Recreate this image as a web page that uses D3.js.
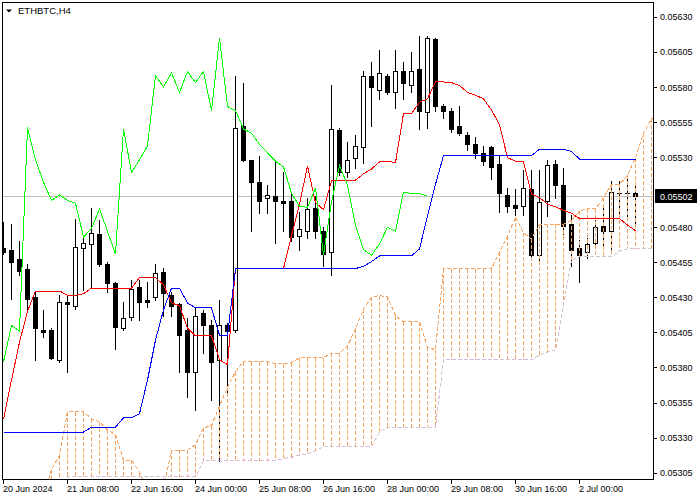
<!DOCTYPE html>
<html><head><meta charset="utf-8">
<script src="https://cdn.jsdelivr.net/npm/d3@7"></script>
<style>
body{margin:0;background:#fff}
svg{display:block}
text{font-family:"Liberation Sans",Arial,sans-serif}
</style>
</head><body>
<svg id="c" width="700" height="500"></svg>
<script>
// ---------- data ----------
const symbol = "ETHBTC,H4";
const xTickBars = [0,8,16,24,32,40,48,56,64,72];
const xTickLabels = ["20 Jun 2024","21 Jun 08:00","22 Jun 16:00","24 Jun 00:00","25 Jun 08:00",
  "26 Jun 16:00","28 Jun 00:00","29 Jun 08:00","30 Jun 16:00","2 Jul 00:00"];
const yTickValues = [0.05630,0.05605,0.05580,0.05555,0.05530,0.05480,0.05455,0.05430,
  0.05405,0.05380,0.05355,0.05330,0.05305];
const lastPrice = 0.05502;

const opens = [0.05465,0.05464,0.05457,0.05450,0.05430,0.05407,0.05407,0.05385,0.05427,0.05424,
 0.05465,0.05468,0.05475,0.05454,0.05440,0.05408,0.05416,0.05437,0.05428,0.05430,
 0.05448,0.05432,0.05425,0.05407,0.05377,0.05419,0.05410,0.05385,0.05410,0.05407,
 0.05552,0.05528,0.05512,0.05501,0.05502,0.05499,0.05499,0.05474,0.05477,0.05494,
 0.05477,0.05462,0.05549,0.05519,0.05529,0.05537,0.05588,0.05578,0.05588,0.05576,
 0.05591,0.05581,0.05593,0.05562,0.05614,0.05566,0.05563,0.05552,0.05546,0.05539,
 0.05533,0.05537,0.05525,0.05503,0.05496,0.05495,0.05507,0.05460,0.05499,0.05525,
 0.05510,0.05482,0.05465,0.05462,0.05469,0.05481,0.05477,0.05504,0.05504,0.05504];
const highs = [0.05484,0.05482,0.05470,0.05454,0.05434,0.05421,0.05408,0.05432,0.05432,0.05486,
 0.05472,0.05494,0.05485,0.05455,0.05441,0.05427,0.05442,0.05442,0.05441,0.05454,
 0.05451,0.05434,0.05426,0.05415,0.05423,0.05421,0.05414,0.05428,0.05412,0.05588,
 0.05583,0.05528,0.05531,0.05510,0.05528,0.05519,0.05504,0.05491,0.05501,0.05502,
 0.05480,0.05581,0.05551,0.05541,0.05546,0.05591,0.05598,0.05606,0.05589,0.05606,
 0.05598,0.05605,0.05616,0.05616,0.05615,0.05568,0.05565,0.05566,0.05548,0.05544,
 0.05538,0.05538,0.05531,0.05508,0.05507,0.05521,0.05521,0.05521,0.05528,0.05528,
 0.05522,0.05489,0.05471,0.05472,0.05485,0.05494,0.05513,0.05513,0.05516,0.05510];
const lows = [0.05461,0.05429,0.05446,0.05421,0.05385,0.05402,0.05386,0.05384,0.05377,0.05422,
 0.05435,0.05437,0.05452,0.05434,0.05393,0.05407,0.05414,0.05414,0.05423,0.05428,
 0.05417,0.05417,0.05377,0.05359,0.05350,0.05390,0.05357,0.05313,0.05360,0.05405,
 0.05527,0.05477,0.05490,0.05490,0.05469,0.05477,0.05470,0.05464,0.05472,0.05472,
 0.05452,0.05446,0.05517,0.05516,0.05522,0.05526,0.05552,0.05571,0.05575,0.05565,
 0.05571,0.05576,0.05550,0.05551,0.05563,0.05558,0.05548,0.05546,0.05535,0.05529,
 0.05524,0.05514,0.05491,0.05491,0.05489,0.05489,0.05459,0.05455,0.05488,0.05501,
 0.05475,0.05452,0.05441,0.05458,0.05466,0.05466,0.05464,0.05489,0.05485,0.05483];
const closes = [0.05462,0.05455,0.05449,0.05429,0.05408,0.05405,0.05387,0.05427,0.05425,0.05466,
 0.05469,0.05476,0.05454,0.05440,0.05409,0.05415,0.05436,0.05427,0.05427,0.05447,
 0.05433,0.05424,0.05403,0.05377,0.05417,0.05410,0.05384,0.05410,0.05406,0.05551,
 0.05528,0.05512,0.05499,0.05503,0.05499,0.05497,0.05473,0.05479,0.05493,0.05477,
 0.05461,0.05550,0.05519,0.05528,0.05538,0.05588,0.05580,0.05590,0.05576,0.05591,
 0.05583,0.05591,0.05563,0.05615,0.05566,0.05563,0.05550,0.05547,0.05539,0.05533,
 0.05527,0.05523,0.05504,0.05495,0.05494,0.05508,0.05460,0.05498,0.05524,0.05510,
 0.05481,0.05464,0.05460,0.05468,0.05480,0.05477,0.05505,0.05504,0.05504,0.05502];

// Ichimoku lines
const tenkan = [0.05343,0.05371,0.05398,0.05420,0.054345,0.054345,0.054345,0.054345,0.054315,0.054315,
 0.054325,0.054365,0.054365,0.054365,0.054365,0.054365,0.054365,0.05444,0.05444,0.05444,
 0.05439,0.05426,0.05424,0.05408,0.054025,0.054025,0.054025,0.053855,0.05382,0.054505,
 0.054505,0.054505,0.054505,0.054505,0.054505,0.054505,0.05474,0.054965,0.055235,0.054975,
 0.054925,0.05513,0.055135,0.055135,0.055135,0.05518,0.055215,0.055265,0.05527,0.05526,
 0.05561,0.05561,0.05569,0.055715,0.055835,0.055835,0.05583,0.05581,0.05576,0.05574,
 0.055715,0.055635,0.05553,0.055295,0.05527,0.055265,0.055035,0.05501,0.054965,0.054945,
 0.05492,0.05490,0.05486,0.05486,0.05486,0.05486,0.05486,0.05486,0.054815,0.054775];
const kijun = [0.05334,0.05334,0.05334,0.05334,0.05334,0.05334,0.05334,0.05334,0.05334,0.05334,
 0.05334,0.053375,0.053375,0.053375,0.053375,0.05344,0.05344,0.05347,0.05371,0.053995,
 0.05421,0.054365,0.054365,0.05426,0.054225,0.054225,0.054225,0.05403,0.05403,0.054505,
 0.054505,0.054505,0.054505,0.054505,0.054505,0.054505,0.054505,0.054505,0.054505,0.054505,
 0.054505,0.054505,0.054505,0.054505,0.054505,0.05452,0.054555,0.054595,0.054595,0.054595,
 0.054595,0.054595,0.054645,0.05488,0.055105,0.05531,0.05531,0.05531,0.05531,0.05531,
 0.05531,0.05531,0.05531,0.05531,0.05531,0.05531,0.05531,0.055355,0.055355,0.055355,
 0.055355,0.05534,0.055285,0.055285,0.055285,0.055285,0.055285,0.055285,0.055285,0.055285];
const chikou = [0.05384,0.05410,0.05406,0.05551,0.05528,0.05512,0.05499,0.05503,0.05499,0.05497,
 0.05473,0.05479,0.05493,0.05477,0.05461,0.05550,0.05519,0.05528,0.05538,0.05588,
 0.05580,0.05590,0.05576,0.05591,0.05583,0.05591,0.05563,0.05615,0.05566,0.05563,
 0.05550,0.05547,0.05539,0.05533,0.05527,0.05523,0.05504,0.05495,0.05494,0.05508,
 0.05460,0.05498,0.05524,0.05510,0.05481,0.05464,0.05460,0.05468,0.05480,0.05477,
 0.05505,0.05504,0.05504,0.05502];
const spanA = [0.05278,0.05278,0.05278,0.05278,0.05278,0.05289,0.05307,0.053175,0.053485,0.053485,
 0.053485,0.053435,0.05341,0.053355,0.05332,0.05314,0.05314,0.053055,0.052925,0.05289,
 0.05294,0.05321,0.05321,0.05321,0.05325,0.05337,0.053385,0.053525,0.05366,0.05377,
 0.0538425,0.0538425,0.0538425,0.0538425,0.0538275,0.0538275,0.0538325,0.05387,0.05387,0.05387,
 0.05387,0.0539025,0.0539025,0.053955,0.054075,0.0542175,0.05430,0.0543125,0.0543025,0.05417,
 0.054125,0.054125,0.054125,0.0539425,0.053925,0.054505,0.054505,0.054505,0.054505,0.054505,
 0.054505,0.054505,0.0546225,0.054735,0.05487,0.05476,0.054715,0.0548175,0.05482,0.05482,
 0.05482,0.05485,0.054915,0.05493,0.05493,0.05501,0.055105,0.055105,0.05517,0.055295,
 0.05547,0.0555725,0.05557];
const spanB = [0.05282,0.05282,0.05282,0.05282,0.05282,0.05282,0.05282,0.05282,0.05302,0.05302,
 0.05302,0.05302,0.05302,0.05302,0.05302,0.05302,0.05302,0.05302,0.05302,0.05302,
 0.05302,0.05302,0.05302,0.05302,0.05302,0.053135,0.053135,0.053135,0.053135,0.053135,
 0.053135,0.053135,0.053135,0.053135,0.053135,0.05315,0.05316,0.053175,0.053185,0.053205,
 0.053235,0.053235,0.053235,0.053235,0.053235,0.053235,0.053235,0.05334,0.053375,0.053375,
 0.053375,0.053375,0.053375,0.053375,0.053375,0.053855,0.053855,0.053855,0.053855,0.053855,
 0.053855,0.053855,0.053855,0.053855,0.053855,0.053855,0.053855,0.05389,0.05391,0.053925,
 0.054245,0.054565,0.05459,0.05459,0.05459,0.05459,0.05459,0.05463,0.054645,0.054645,
 0.054645,0.054645,0.054645];

// ---------- drawing ----------
const svg = d3.select("#c");
const P = {l:2, t:2, r:653, b:479};
const x = d3.scaleLinear().domain([0,80]).range([3,643]);      // bar -> pixel column
const y = d3.scaleLinear().domain([0.05305,0.05630]).range([472.7,16.7]);
const cx = i => x(i) + 0.5;
const row = v => Math.round(y(v));

svg.append("defs").append("clipPath").attr("id","clip")
  .append("rect").attr("x",P.l+1).attr("y",P.t+1).attr("width",P.r-P.l-1).attr("height",P.b-P.t-1);
const plot = svg.append("g").attr("clip-path","url(#clip)");

// last price line
plot.append("line").attr("x1",P.l).attr("x2",P.r).attr("y1",row(lastPrice)+0.5).attr("y2",row(lastPrice)+0.5)
  .attr("stroke","#c0c0c0").attr("shape-rendering","crispEdges");

// candles
const bars = d3.range(opens.length).map(i=>({i,o:opens[i],h:highs[i],l:lows[i],c:closes[i]}));
const cg = plot.append("g").attr("shape-rendering","crispEdges");
cg.selectAll("line.wick").data(bars).join("line").attr("class","wick")
  .attr("x1",d=>cx(d.i)).attr("x2",d=>cx(d.i))
  .attr("y1",d=>row(d.h)).attr("y2",d=>row(d.l)+1).attr("stroke","#000");
bars.forEach(d=>{
  const top = row(Math.max(d.o,d.c)), bot = row(Math.min(d.o,d.c));
  if (bot - top < 1) {
    cg.append("line").attr("x1",cx(d.i)-2.5).attr("x2",cx(d.i)+2.5)
      .attr("y1",top+0.5).attr("y2",top+0.5).attr("stroke","#000");
  } else {
    cg.append("rect").attr("x",cx(d.i)-2).attr("y",top+0.5).attr("width",4).attr("height",bot-top)
      .attr("fill", d.c > d.o ? "#fff" : "#000").attr("stroke","#000");
  }
});

// cloud histogram
const cloud = d3.range(spanA.length).map(i=>({i,a:spanA[i],b:spanB[i]}));
plot.append("g").attr("shape-rendering","crispEdges").selectAll("line").data(cloud).join("line")
  .attr("x1",d=>cx(d.i)).attr("x2",d=>cx(d.i))
  .attr("y1",d=>y(d.a)).attr("y2",d=>y(d.b))
  .attr("stroke",d=>d.a>=d.b?"#f4a460":"#d8bfd8").attr("stroke-dasharray","4,2");

const line = d3.line().x((d,i)=>cx(i)).y(d=>y(d));
plot.append("path").attr("d",line(spanA)).attr("fill","none").attr("stroke","#f4a460")
  .attr("stroke-dasharray","4,2").attr("shape-rendering","crispEdges");
plot.append("path").attr("d",line(spanB)).attr("fill","none").attr("stroke","#d8bfd8")
  .attr("stroke-dasharray","4,2").attr("shape-rendering","crispEdges");
plot.append("path").attr("d",line(tenkan)).attr("fill","none").attr("stroke","#ff0000").attr("shape-rendering","crispEdges");
plot.append("path").attr("d",line(kijun)).attr("fill","none").attr("stroke","#0000ff").attr("shape-rendering","crispEdges");
plot.append("path").attr("d",line(chikou)).attr("fill","none").attr("stroke","#00ff00").attr("shape-rendering","crispEdges");

// frame
svg.append("rect").attr("x",P.l+0.5).attr("y",P.t+0.5).attr("width",P.r-P.l).attr("height",P.b-P.t)
  .attr("fill","none").attr("stroke","#000").attr("shape-rendering","crispEdges");

// x axis
const xa = svg.append("g").attr("transform",`translate(0,${P.b+1})`)
  .call(d3.axisBottom(x).tickValues(xTickBars).tickFormat((d,i)=>xTickLabels[i]).tickSize(4).tickSizeOuter(0));
xa.select(".domain").remove();
xa.selectAll("line").attr("stroke","#000").attr("shape-rendering","crispEdges");
xa.selectAll("text").attr("text-anchor","start").attr("x",-0.5).attr("y",12).attr("dy",null)
  .attr("font-size","9px").attr("fill","#000").style("font-family",'"Liberation Sans",Arial,sans-serif');

// y axis
const ya = svg.append("g").attr("transform",`translate(${P.r+1},0)`)
  .call(d3.axisRight(y).tickValues(yTickValues).tickFormat(d3.format(".5f")).tickSize(3).tickSizeOuter(0));
ya.select(".domain").remove();
ya.selectAll("line").attr("stroke","#000").attr("shape-rendering","crispEdges");
ya.selectAll("text").attr("x",6).attr("dy",null).attr("y",3.2)
  .attr("font-size","9px").attr("fill","#000").style("font-family",'"Liberation Sans",Arial,sans-serif');

// last price label
const ly = row(lastPrice);
svg.append("rect").attr("x",655).attr("y",ly-7).attr("width",42).attr("height",14).attr("fill","#000");
svg.append("text").attr("x",660).attr("y",y(lastPrice)+3.4).attr("fill","#fff").attr("font-size","9px")
  .text(d3.format(".5f")(lastPrice));

// title
svg.append("path").attr("d","M6,9.5L12,9.5L9,12.5Z").attr("fill","#000");
svg.append("text").attr("x",18).attr("y",14).attr("font-size","9.5px").attr("fill","#000").text(symbol);
</script>
</body></html>
